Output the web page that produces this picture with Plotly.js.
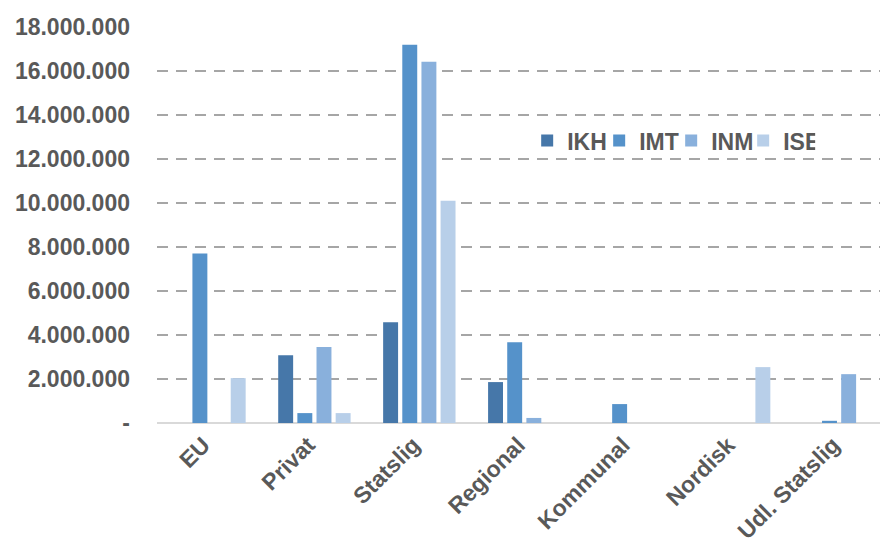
<!DOCTYPE html>
<html>
<head>
<meta charset="utf-8">
<script src="https://cdn.plot.ly/plotly-3.0.1.min.js"></script>
<style>html,body{margin:0;padding:0;background:#fff;}#chart{width:880px;height:548px;}</style>
</head>
<body>
<div id="chart"></div>
<script>
const categories = ["EU", "Privat", "Statslig", "Regional", "Kommunal", "Nordisk", "Udl. Statslig"];
const seriesNames = ["IKH", "IMT", "INM", "ISE"];
const IKH = [null, 3080000, 4580000, 1860000, null, null, null];
const IMT = [7710000, 450000, 17190000, 3670000, 860000, null, 100000];
const INM = [null, 3450000, 16420000, 230000, null, null, 2220000];
const ISE = [2040000, 450000, 10100000, null, null, 2540000, null];
const tickVals = [0, 2000000, 4000000, 6000000, 8000000, 10000000, 12000000, 14000000, 16000000, 18000000];
const tickLabels = ["-", "2.000.000", "4.000.000", "6.000.000", "8.000.000", "10.000.000", "12.000.000", "14.000.000", "16.000.000", "18.000.000"];
const colors = ["#4677a9", "#5592ca", "#89b0dc", "#b8cfe9"];

const seriesValues = [IKH, IMT, INM, ISE];
const font = "Liberation Sans, Arial, sans-serif";
const traces = seriesNames.map((n, i) => ({
  type: "bar",
  name: n,
  x: categories,
  y: seriesValues[i],
  marker: {color: colors[i], line: {width: 0}},
  hoverinfo: "x+y+name"
}));

const layout = {
  width: 880,
  height: 548,
  margin: {l: 157, r: 0, t: 26.5, b: 124.5, autoexpand: false},
  paper_bgcolor: "#ffffff",
  plot_bgcolor: "#ffffff",
  barmode: "group",
  bargap: 0.27,
  bargroupgap: 0.22,
  font: {family: font, color: "#595959"},
  showlegend: true,
  legend: {
    orientation: "h",
    x: 0.512, xanchor: "left",
    y: 0.713, yanchor: "middle",
    font: {family: font, size: 23, color: "#595959", weight: "bold"},
    bgcolor: "rgba(0,0,0,0)",
    traceorder: "normal",
    itemwidth: 30,
    entrywidth: 27
  },
  xaxis: {
    type: "category",
    range: [-0.5, 6.39],
    tickangle: -45,
    showgrid: false,
    zeroline: false,
    showline: false,
    ticks: "",
    automargin: false,
    ticklabelshift: -6,
    ticklabelstandoff: 3,
    tickfont: {family: font, size: 23, color: "#595959", weight: "bold"}
  },
  yaxis: {
    range: [0, 18000000],
    tickmode: "array",
    tickvals: tickVals,
    ticktext: tickLabels,
    showgrid: true,
    gridcolor: "#a6a6a6",
    gridwidth: 2,
    griddash: "11px,8px",
    zeroline: true,
    zerolinecolor: "#d9d9d9",
    zerolinewidth: 2,
    showline: false,
    ticks: "",
    automargin: false,
    ticklabelstandoff: 26,
    tickfont: {family: font, size: 23, color: "#595959", weight: "bold"}
  }
};

Plotly.newPlot("chart", traces, layout, {displayModeBar: false, staticPlot: true});
</script>
</body>
</html>
